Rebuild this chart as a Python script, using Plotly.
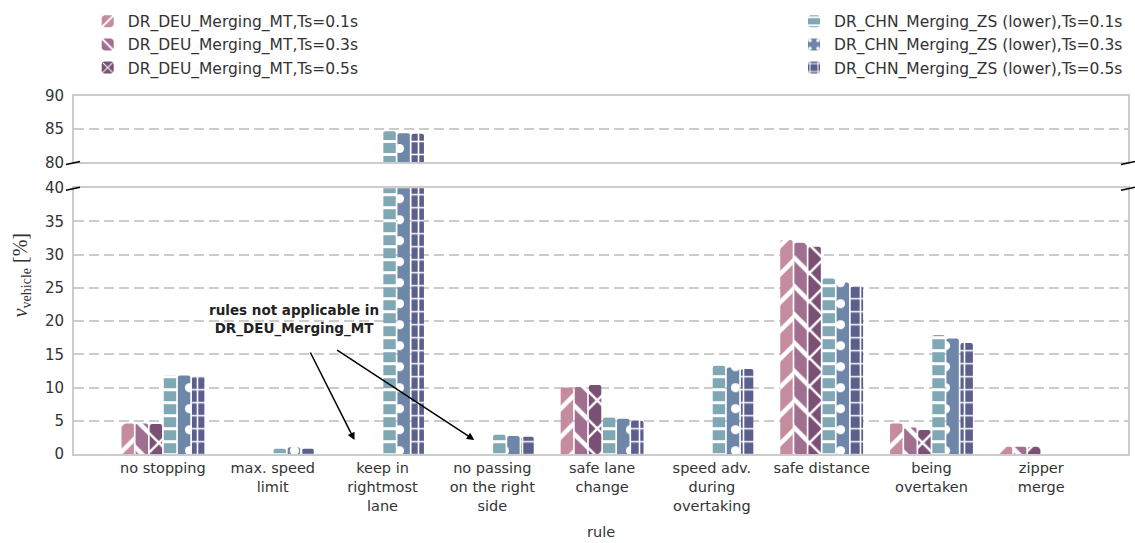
import plotly.graph_objects as go

# rule categories (x axis)
rules = [
    "no stopping",
    "max. speed<br>limit",
    "keep in<br>rightmost<br>lane",
    "no passing<br>on the right<br>side",
    "safe lane<br>change",
    "speed adv.<br>during<br>overtaking",
    "safe distance",
    "being<br>overtaken",
    "zipper<br>merge",
]

# share of vehicles violating each rule [%]; None = rule not applicable
deu_ts01 = [4.6, None, None, None, 10.0, None, 32.2, 4.6, 1.1]
deu_ts03 = [4.6, None, None, None, 10.1, None, 31.8, 4.0, 1.1]
deu_ts05 = [4.5, None, None, None, 10.4, None, 31.2, 3.6, 1.1]
chn_ts01 = [11.9, 0.8, 84.7, 2.9, 5.5, 13.3, 26.4, 17.9, 0.0]
chn_ts03 = [11.8, 1.0, 84.4, 2.7, 5.3, 13.0, 25.8, 17.4, 0.0]
chn_ts05 = [11.7, 0.8, 84.3, 2.6, 5.0, 12.8, 25.2, 16.7, 0.0]

lower_ticks = [0, 5, 10, 15, 20, 25, 30, 35, 40]
upper_ticks = [80, 85, 90]

# name, values, colour, hatch shape, hatch size, hatch solidity, legend
series = [
    ("DR_DEU_Merging_MT,Ts=0.1s", deu_ts01, "#c48c9e", "/", 20, 0.23, "legend"),
    ("DR_DEU_Merging_MT,Ts=0.3s", deu_ts03, "#a06e8f", "\\", 20, 0.23, "legend"),
    ("DR_DEU_Merging_MT,Ts=0.5s", deu_ts05, "#7a5075", "x", 20, 0.23, "legend"),
    ("DR_CHN_Merging_ZS (lower),Ts=0.1s", chn_ts01, "#80a8b4", "-", 13, 0.23, "legend2"),
    ("DR_CHN_Merging_ZS (lower),Ts=0.3s", chn_ts03, "#6e87a8", ".", 21, 0.15, "legend2"),
    ("DR_CHN_Merging_ZS (lower),Ts=0.5s", chn_ts05, "#5c5f8c", "+", 13, 0.23, "legend2"),
]

FONT = "DejaVu Sans"
SERIF = "Liberation Serif"
TXT = "#333333"
GRID = "#cccccc"

fig = go.Figure()
for name, vals, col, shape, size, solid, leg in series:
    for xa, ya, show in (("x", "y", True), ("x2", "y2", False)):
        fig.add_trace(go.Bar(
            x=rules, y=vals, name=name, xaxis=xa, yaxis=ya,
            showlegend=show, legend=leg, legendgroup=name,
            marker=dict(
                color=col, cornerradius=2, line=dict(width=0),
                pattern=dict(shape=shape, fillmode="overlay", fgcolor="white",
                             fgopacity=1, bgcolor=col, size=size, solidity=solid),
            ),
        ))

axis_common = dict(showline=True, mirror=True, linecolor=GRID, linewidth=2,
                   zeroline=False)
yaxis_common = dict(axis_common, showgrid=True, gridcolor=GRID, gridwidth=2,
                    griddash="10px,5px", ticks="", ticklabelstandoff=5,
                    tickfont=dict(family=FONT, size=15, color=TXT))

fig.update_layout(
    width=1135, height=543,
    margin=dict(l=74, r=5, t=93, b=89),
    paper_bgcolor="white", plot_bgcolor="white",
    barmode="group", bargap=0.23, bargroupgap=0.12,
    font=dict(family=FONT, size=15, color=TXT),
    xaxis=dict(axis_common, anchor="y", range=[-0.81, 8.79], showgrid=False,
               ticks="", tickfont=dict(family=FONT, size=14.5, color=TXT)),
    xaxis2=dict(axis_common, anchor="y2", matches="x", range=[-0.81, 8.79],
                showgrid=False, showticklabels=False, ticks=""),
    yaxis=dict(yaxis_common, domain=[0, 0.7424], range=[0, 40],
               tickvals=lower_ticks),
    yaxis2=dict(yaxis_common, domain=[0.8144, 1], range=[80, 90],
                tickvals=upper_ticks),
    legend=dict(x=0.013, y=1.255, xanchor="left", yanchor="top",
                bgcolor="rgba(0,0,0,0)", font=dict(family=FONT, size=15.5, color=TXT),
                traceorder="normal"),
    legend2=dict(x=1.0, y=1.255, xanchor="right", yanchor="top",
                 bgcolor="rgba(0,0,0,0)", font=dict(family=FONT, size=15.5, color=TXT),
                 traceorder="normal"),
)

# axis titles
fig.add_annotation(text="<i>v</i><sub>vehicle</sub> [%]", xref="paper", yref="paper",
                   x=-0.05, y=0.5, xanchor="center", yanchor="middle",
                   textangle=-90, showarrow=False,
                   font=dict(family=SERIF, size=20, color=TXT))
fig.add_annotation(text="rule", xref="paper", yref="paper", x=0.5, y=-0.219,
                   xanchor="center", yanchor="middle",
                   showarrow=False, font=dict(family=FONT, size=14.5, color=TXT))

# note on rules without data for the German scenario
fig.add_annotation(text="<b>rules not applicable in<br>DR_DEU_Merging_MT</b>",
                   x=1.19, y=20.2, xref="x", yref="y", showarrow=False,
                   font=dict(family=FONT, size=13.5, color="#222222"))
for tip_x, tail_x, tail_y in ((1.745, 1.336, 15.5), (2.836, 1.573, 15.8)):
    fig.add_annotation(x=tip_x, y=2.1, ax=tail_x, ay=tail_y, xref="x", yref="y",
                       axref="x", ayref="y", text="", showarrow=True,
                       arrowhead=2, arrowsize=1, arrowwidth=1.5, arrowcolor="black")

# broken-axis markers
for x0, x1 in ((-0.0076, 0.0057), (0.9934, 1.0066)):
    for y0, y1 in ((0.8089, 0.8172), (0.7368, 0.7451)):
        fig.add_shape(type="line", xref="paper", yref="paper", x0=x0, x1=x1,
                      y0=y0, y1=y1, line=dict(color="black", width=1.5))

fig.write_html("out.html")
